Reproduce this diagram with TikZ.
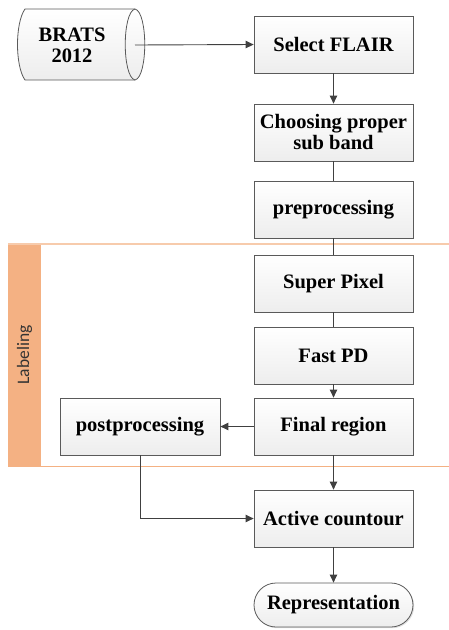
\documentclass[tikz,border=0pt]{standalone}
\usepackage{fontspec}
\setmainfont{Liberation Serif}
\newfontfamily\labfont{Carlito}
\usetikzlibrary{arrows.meta,shadows}
\definecolor{edge}{HTML}{5A5A5A}
\definecolor{conn}{HTML}{404040}
\definecolor{bandfill}{HTML}{F4B183}
\definecolor{bandline}{HTML}{F7CBAC}
\begin{document}
\begin{tikzpicture}[x=1pt,y=-1pt,
  font=\fontsize{20.5}{21}\selectfont\bfseries,
  stepbox/.style={draw=edge,line width=0.8pt,top color=white,bottom color=gray!14,
    minimum width=159pt,minimum height=57pt,align=center,inner sep=1pt,
    drop shadow={shadow xshift=1.2pt,shadow yshift=-1.2pt,opacity=0.25}},
  endbox/.style={stepbox,minimum height=44pt,rounded corners=22pt},
  conn/.style={draw=conn,line width=0.9pt},
  arr/.style={conn,-{Triangle[length=8pt,width=7.5pt]}}]
\useasboundingbox (0,0) rectangle (449,630);
% swimlane band
\fill[bandfill] (8,244) rectangle (41,466);
\draw[bandline,line width=1.6pt] (8,244) -- (449,244);
\draw[bandfill,line width=1pt] (8,466) -- (449,466);
\node[rotate=90,font=\labfont\fontsize{17.5}{19}\selectfont,text=black!80] (lab) at (24.5,355) {Labeling};
% cylinder
\path[draw=edge,line width=0.8pt,top color=white,bottom color=gray!14]
  (25,9) -- (135,9) .. controls (148,12) and (148,77) .. (135,80) -- (25,80)
  .. controls (15,66) and (15,23) .. (25,9) -- cycle;
\draw[edge,line width=0.8pt] (135,9) .. controls (122,12) and (122,77) .. (135,80);
\node[align=center,inner sep=0pt] (brats) at (72,45) {BRATS\\2012};
\coordinate (bratsout) at (135,45);
% boxes
\node[stepbox] (sel) at (333.5,44.5) {Select FLAIR};
\node[stepbox] (cho) at (333.5,132.5) {Choosing proper\\sub band};
\node[stepbox] (pre) at (333.5,209.5) {preprocessing};
\node[stepbox] (sup) at (333.5,283.5) {Super Pixel};
\node[stepbox] (fpd) at (333.5,355.5) {Fast PD};
\node[stepbox] (fin) at (333.5,426.5) {Final region};
\node[stepbox,minimum width=160pt] (post) at (140,426.5) {postprocessing};
\node[stepbox] (act) at (333.5,518.5) {Active countour};
\node[endbox] (rep) at (333.5,605) {Representation};
% connectors
\draw[arr] (bratsout) -- (sel.west);
\draw[arr] (sel) -- (cho);
\draw[conn] (cho) -- (pre);
\draw[conn] (pre) -- (sup);
\draw[conn] (sup) -- (fpd);
\draw[arr] (fpd) -- (fin);
\draw[arr] (fin) -- (post);
\draw[arr] (fin) -- (act);
\draw[arr] (post.south) |- (act.west);
\draw[arr] (act) -- (rep);
\end{tikzpicture}
\end{document}
